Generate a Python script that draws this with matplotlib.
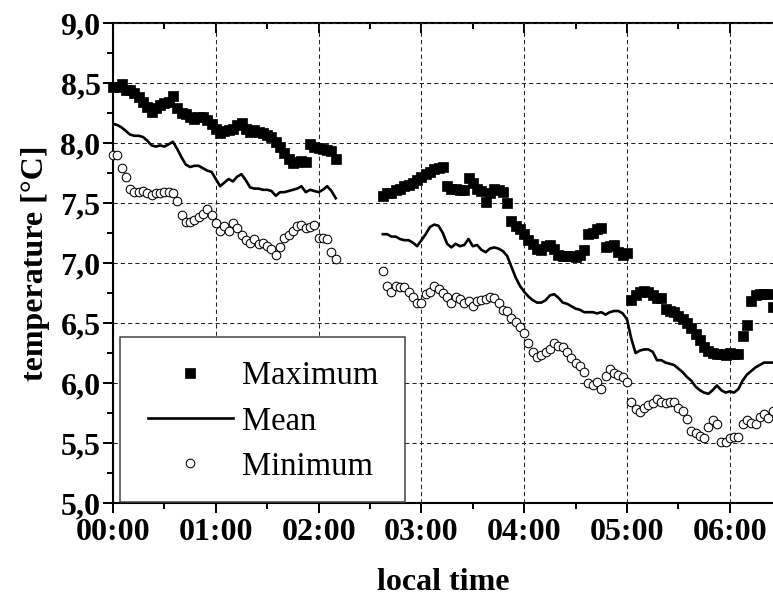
import numpy as np
import matplotlib
matplotlib.use("Agg")
import matplotlib.pyplot as plt
from matplotlib.ticker import MultipleLocator
from matplotlib.lines import Line2D
from matplotlib.patches import Rectangle
from matplotlib.font_manager import FontProperties

plt.rcParams['font.family'] = ['Liberation Serif', 'DejaVu Serif']

# ---------------- data (time in minutes after 00:00, sampling 2.5 min) -------------
minutes_seg1 = np.arange(0, 132.5, 2.5)        # 00:00 ... 02:10
minutes_seg2 = np.arange(157.5, 387.5, 2.5)    # 02:37:30 ... 06:25

max_seg1 = [8.47, 8.47, 8.49, 8.44, 8.44, 8.42, 8.38, 8.34, 8.30, 8.26,
            8.29, 8.32, 8.33, 8.34, 8.39, 8.29, 8.25, 8.24, 8.22, 8.20,
            8.22, 8.22, 8.19, 8.16, 8.12, 8.08, 8.10, 8.11, 8.12, 8.15,
            8.17, 8.12, 8.09, 8.11, 8.09, 8.08, 8.07, 8.05, 8.01, 7.97,
            7.92, 7.87, 7.83, 7.84, 7.85, 7.84, 7.99, 7.97, 7.96, 7.95,
            7.94, 7.93, 7.87]
mean_seg1 = [8.16, 8.15, 8.13, 8.10, 8.07, 8.06, 8.06, 8.05, 8.02, 7.98,
             7.97, 7.98, 7.97, 7.99, 8.01, 7.95, 7.88, 7.82, 7.80, 7.81,
             7.81, 7.79, 7.77, 7.76, 7.70, 7.64, 7.67, 7.70, 7.68, 7.72,
             7.74, 7.69, 7.63, 7.62, 7.62, 7.61, 7.61, 7.60, 7.56, 7.59,
             7.59, 7.60, 7.61, 7.62, 7.64, 7.59, 7.61, 7.60, 7.59, 7.61,
             7.64, 7.60, 7.54]
min_seg1 = [7.90, 7.90, 7.79, 7.72, 7.62, 7.59, 7.59, 7.60, 7.58, 7.57,
            7.58, 7.58, 7.59, 7.59, 7.58, 7.52, 7.40, 7.34, 7.34, 7.36,
            7.38, 7.41, 7.45, 7.40, 7.33, 7.27, 7.31, 7.27, 7.33, 7.29,
            7.23, 7.19, 7.17, 7.20, 7.16, 7.17, 7.14, 7.12, 7.07, 7.13,
            7.21, 7.23, 7.27, 7.31, 7.32, 7.29, 7.30, 7.32, 7.21, 7.21,
            7.20, 7.09, 7.03]

max_seg2 = [7.56, 7.58, 7.58, 7.61, 7.62, 7.64, 7.65, 7.67, 7.69, 7.72,
            7.74, 7.76, 7.78, 7.79, 7.80, 7.64, 7.62, 7.62, 7.61, 7.61,
            7.71, 7.67, 7.62, 7.60, 7.51, 7.58, 7.62, 7.61, 7.59, 7.50,
            7.35, 7.31, 7.28, 7.24, 7.19, 7.16, 7.12, 7.11, 7.14, 7.15,
            7.12, 7.07, 7.06, 7.06, 7.06, 7.05, 7.07, 7.11, 7.24, 7.25,
            7.28, 7.29, 7.13, 7.14, 7.15, 7.09, 7.07, 7.08, 6.69, 6.73,
            6.76, 6.77, 6.76, 6.73, 6.71, 6.71, 6.62, 6.60, 6.59, 6.56,
            6.53, 6.50, 6.46, 6.41, 6.36, 6.30, 6.27, 6.25, 6.24, 6.24,
            6.23, 6.25, 6.24, 6.24, 6.39, 6.48, 6.68, 6.73, 6.74, 6.74,
            6.74, 6.63]
mean_seg2 = [7.24, 7.24, 7.22, 7.22, 7.20, 7.19, 7.19, 7.17, 7.14, 7.19,
             7.24, 7.30, 7.32, 7.31, 7.25, 7.16, 7.13, 7.16, 7.14, 7.15,
             7.20, 7.14, 7.15, 7.11, 7.09, 7.12, 7.13, 7.12, 7.10, 7.06,
             6.97, 6.88, 6.81, 6.76, 6.72, 6.69, 6.67, 6.67, 6.69, 6.73,
             6.74, 6.71, 6.67, 6.66, 6.64, 6.62, 6.61, 6.59, 6.59, 6.59,
             6.58, 6.59, 6.57, 6.59, 6.60, 6.60, 6.58, 6.53, 6.37, 6.25,
             6.27, 6.28, 6.28, 6.26, 6.19, 6.19, 6.17, 6.16, 6.15, 6.12,
             6.09, 6.05, 6.02, 5.97, 5.94, 5.92, 5.91, 5.94, 5.98, 5.94,
             5.92, 5.93, 5.92, 5.95, 6.02, 6.07, 6.10, 6.13, 6.15, 6.17,
             6.17, 6.17]
min_seg2 = [6.93, 6.81, 6.76, 6.81, 6.80, 6.80, 6.76, 6.72, 6.67, 6.67,
            6.74, 6.76, 6.81, 6.78, 6.75, 6.72, 6.67, 6.72, 6.70, 6.67,
            6.68, 6.64, 6.68, 6.69, 6.70, 6.72, 6.71, 6.67, 6.61, 6.60,
            6.54, 6.51, 6.47, 6.42, 6.33, 6.26, 6.22, 6.23, 6.26, 6.28,
            6.33, 6.31, 6.30, 6.26, 6.21, 6.17, 6.14, 6.09, 6.00, 5.98,
            6.01, 5.95, 6.06, 6.12, 6.08, 6.07, 6.05, 6.01, 5.84, 5.78,
            5.76, 5.79, 5.82, 5.83, 5.87, 5.84, 5.83, 5.84, 5.84, 5.79,
            5.77, 5.70, 5.60, 5.58, 5.56, 5.54, 5.63, 5.69, 5.66, 5.51,
            5.51, 5.54, 5.55, 5.55, 5.66, 5.69, 5.67, 5.66, 5.72, 5.74,
            5.71, 5.77]

x_tick_hours = [0, 1, 2, 3, 4, 5, 6]
x_tick_labels = ['00:00', '01:00', '02:00', '03:00', '04:00', '05:00', '06:00']
y_ticks = [5.0, 5.5, 6.0, 6.5, 7.0, 7.5, 8.0, 8.5, 9.0]
y_tick_labels = ['5,0', '5,5', '6,0', '6,5', '7,0', '7,5', '8,0', '8,5', '9,0']
legend_labels = ['Maximum', 'Mean', 'Minimum']

# ---------------- figure ----------------
W, H = 773, 602
fig = plt.figure(figsize=(W / 100, H / 100), dpi=100)
ax_l, ax_b, ax_w, ax_h = 113, 99, 660, 480
ax = fig.add_axes([ax_l / W, ax_b / H, ax_w / W, ax_h / H])

hours_per_px = 1 / 102.8
ax.set_xlim(0, ax_w * hours_per_px)
ax.set_ylim(5.0, 9.0)

sq_kw = dict(linestyle='none', marker='s', ms=7.4, mfc='black', mec='black',
             mew=0.5, clip_on=False, zorder=4)
ci_kw = dict(linestyle='none', marker='o', ms=6.2, mfc='white', mec='black',
             mew=0.75, clip_on=False, zorder=4)
ln_kw = dict(color='black', lw=1.9, zorder=3)

for mins, mx, mn, mi in [(minutes_seg1, max_seg1, mean_seg1, min_seg1),
                         (minutes_seg2, max_seg2, mean_seg2, min_seg2)]:
    hrs = np.asarray(mins) / 60.0
    ax.plot(hrs, mx, **sq_kw)
    ax.plot(hrs, mn, **ln_kw)
    ax.plot(hrs, mi, **ci_kw)

# ticks
ax.set_xticks(x_tick_hours)
ax.set_xticklabels(x_tick_labels)
ax.xaxis.set_minor_locator(MultipleLocator(0.5))
ax.set_yticks(y_ticks)
ax.set_yticklabels(y_tick_labels)
ax.yaxis.set_minor_locator(MultipleLocator(0.25))

lab_font = dict(family='Liberation Serif', weight='bold', size=23)
for lab in ax.get_xticklabels() + ax.get_yticklabels():
    lab.set_fontproperties(FontProperties(**lab_font))

ax.tick_params(axis='x', which='both', direction='out', top=False, width=1.4, pad=4)
ax.tick_params(axis='y', which='both', direction='out', right=False, width=1.4, pad=2)
ax.tick_params(which='major', length=7)
ax.tick_params(which='minor', length=4)

for side in ['left', 'bottom']:
    ax.spines[side].set_linewidth(1.5)
ax.spines['right'].set_visible(False)
ax.spines['top'].set_visible(False)

sec = ax.secondary_xaxis('top')
sec.set_xticks(x_tick_hours)
sec.xaxis.set_minor_locator(MultipleLocator(0.5))
sec.tick_params(which='both', direction='in', labeltop=False, width=1.4)
sec.tick_params(which='major', length=7)
sec.tick_params(which='minor', length=4)
sec.spines['top'].set_linewidth(1.5)

# grid
ax.grid(True, which='major', color='#222222', lw=0.75, linestyle=(0, (4, 3)))
ax.set_axisbelow(True)

ax.set_xlabel('local time', **lab_font)
ax.set_ylabel('temperature [°C]', **lab_font)
ax.xaxis.set_label_coords(0.5, -0.135)
ax.yaxis.set_label_coords(-0.095, 0.5)

# legend
handles = [Line2D([], [], **{k: v for k, v in sq_kw.items() if k != 'clip_on'}),
           Line2D([], [], **ln_kw),
           Line2D([], [], **{k: v for k, v in ci_kw.items() if k != 'clip_on'})]
leg_x0 = (148 - ax_l) / ax_w
leg_y0 = (503 - 361) / ax_h
leg = ax.legend(handles, legend_labels, loc='upper left',
                bbox_to_anchor=(leg_x0, leg_y0), bbox_transform=ax.transAxes,
                frameon=False, borderpad=0, borderaxespad=0,
                handlelength=2.6, handletextpad=0.27, labelspacing=0.445,
                prop=dict(family='Liberation Serif', size=23.5))
leg.set_zorder(6)
box = Rectangle(((120 - ax_l) / ax_w, 0.003), 285 / ax_w, (502 - 337) / ax_h,
                transform=ax.transAxes, facecolor='white', edgecolor='#444444',
                lw=1.1, zorder=5)
ax.add_patch(box)

fig.savefig('out.png', dpi=100)
